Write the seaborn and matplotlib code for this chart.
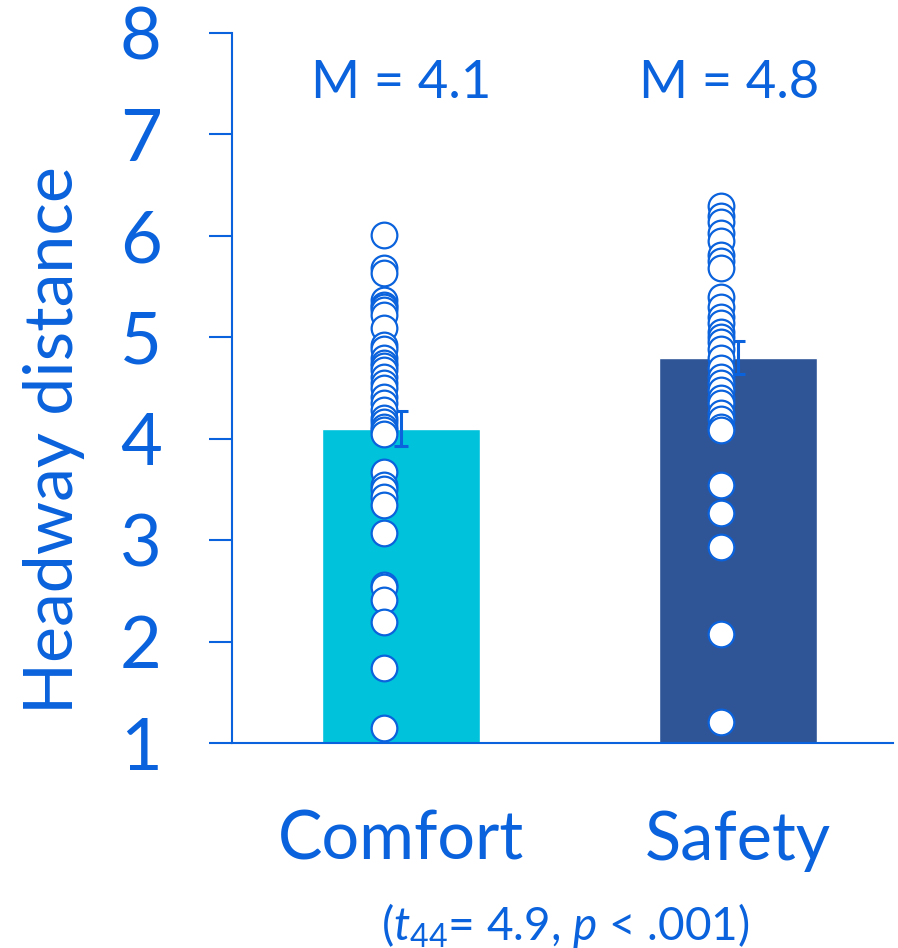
import matplotlib
matplotlib.use("Agg")
import matplotlib.pyplot as plt
import matplotlib.transforms as mtransforms
import seaborn as sns
import pandas as pd
import numpy as np

# ---- data ----
categories = ["Comfort", "Safety"]
means = [4.1, 4.8]
sems = [0.17, 0.16]
mean_labels = ["M = 4.1", "M = 4.8"]
comfort_values = [6.01, 5.68, 5.63, 5.37, 5.32, 5.30, 5.27, 5.22, 5.09, 4.92, 4.88,
                  4.80, 4.75, 4.72, 4.68, 4.61, 4.55, 4.50, 4.41, 4.35, 4.28, 4.20,
                  4.16, 4.12, 4.09, 4.05, 3.67, 3.54, 3.50, 3.43, 3.35, 3.07, 2.56,
                  2.54, 2.41, 2.19, 1.74, 1.15]
safety_values = [6.29, 6.20, 6.14, 6.03, 5.95, 5.81, 5.75, 5.68, 5.40, 5.30, 5.20,
                 5.14, 5.05, 5.00, 4.95, 4.88, 4.80, 4.70, 4.61, 4.55, 4.48, 4.40,
                 4.35, 4.25, 4.19, 4.12, 4.09, 3.54, 3.27, 2.93, 2.07, 1.21]
stat_text = r"($t_{44}$= 4.9, $p$ < .001)"
y_ticks = [1, 2, 3, 4, 5, 6, 7, 8]

BLUE = "#0A62DC"
bar_colors = ["#00C2DB", "#2F5597"]

sns.set_style("white")
plt.rcParams["font.family"] = ["Lato", "DejaVu Sans"]
plt.rcParams["mathtext.fontset"] = "custom"
plt.rcParams["mathtext.it"] = "Lato:italic"
plt.rcParams["mathtext.rm"] = "Lato"

fig = plt.figure(figsize=(8.98, 9.48), dpi=100)
ax = fig.add_axes([232/898, 1-743/948, (893-232)/898, (743-33)/948])

bar_df = pd.DataFrame({"cond": categories, "mean": means})
sns.barplot(data=bar_df, x="cond", y="mean", hue="cond", palette=bar_colors,
            order=categories, width=0.47, errorbar=None, legend=False, ax=ax,
            saturation=1, zorder=1)

# error bars
ax.errorbar(np.arange(len(categories)), means, yerr=sems, fmt="none",
            ecolor=BLUE, elinewidth=2.2, capsize=5, capthick=2.2, zorder=2)

pts = pd.DataFrame({
    "cond": ["Comfort"] * len(comfort_values) + ["Safety"] * len(safety_values),
    "value": comfort_values + safety_values,
})
n_before = len(ax.collections)
sns.stripplot(data=pts, x="cond", y="value", order=categories, jitter=False,
              color="white", edgecolor=BLUE, linewidth=1.6, size=18.5, ax=ax,
              zorder=3)
shift = mtransforms.ScaledTranslation(-17/100, 0, fig.dpi_scale_trans)
for coll in ax.collections[n_before:]:
    coll.set_offset_transform(ax.transData + shift)

ax.set_xlim(-0.502, 1.46)
ax.set_ylim(1, 8)
ax.set_yticks(y_ticks)
ax.set_yticklabels([str(t) for t in y_ticks], fontsize=52, color=BLUE)
ax.tick_params(axis="y", length=16.5, width=1.5, color=BLUE, pad=34, left=True)
ax.tick_params(axis="x", length=0, pad=48, labelsize=48, labelcolor=BLUE)
ax.set_xlabel("")
ax.set_ylabel("Headway distance", fontsize=49, color=BLUE)
ax.yaxis.set_label_coords(-0.222, 0.427)

for s in ["top", "right"]:
    ax.spines[s].set_visible(False)
for s in ["left", "bottom"]:
    ax.spines[s].set_color(BLUE)
    ax.spines[s].set_linewidth(1.5)

label_x = [0.0, -0.027]
for i, lab in enumerate(mean_labels):
    ax.text(i + label_x[i], 7.5, lab, ha="center", va="center", fontsize=38, color=BLUE)

fig.text(565/898, 1-925/948, stat_text, ha="center", va="center",
         fontsize=33, color=BLUE)

fig.savefig("out.png", dpi=100)
